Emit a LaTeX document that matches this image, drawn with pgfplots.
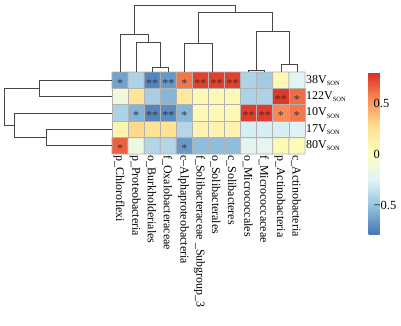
\documentclass[border=0pt]{standalone}
\usepackage{pgfplots}
\pgfplotsset{compat=1.18}
\usepackage{fontspec}
\setmainfont{Liberation Serif}
\pgfplotsset{colormap={pheat}{rgb255=(69,117,180) rgb255=(145,191,219) rgb255=(224,243,248) rgb255=(255,255,191) rgb255=(254,224,144) rgb255=(252,141,89) rgb255=(215,48,39)}}
\newcommand{\son}{{\fontsize{6.5}{7}\selectfont\raisebox{-2.2pt}{SON}}}
\begin{document}
\begin{tikzpicture}
\begin{axis}[
  at={(0,0)}, anchor=south west,
  scale only axis, width=193bp, height=82bp,
  xmin=-0.5, xmax=11.5, ymin=-0.5, ymax=4.5, y dir=reverse,
  enlargelimits=false, clip=false,
  axis line style={draw=none}, major tick length=0pt,
  xtick={0,1,2,3,4,5,6,7,8,9,10,11},
  xticklabels={p\_Chloroflexi, p\_Proteobacteria, o\_Burkholderiales, f\_Oxalobacteraceae, c--Alphaproteobacteria, f\_Solibacteraceae \_Subgroup\_3, o\_Solibacterales, c\_Solibacteres, o\_Micrococcales, f\_Micrococcaceae, p\_Actinobacteria, c\_Actinobacteria},
  xticklabel style={rotate=-90, anchor=west, font=\fontsize{12}{12}\selectfont, inner sep=1pt, yshift=-1bp},
  ytick={0,1,2,3,4},
  yticklabels={38V\son, 122V\son, 10V\son, 17V\son, 80V\son},
  yticklabel pos=right,
  yticklabel style={anchor=west, font=\fontsize{12}{12}\selectfont, inner sep=1pt},
  colormap name=pheat, point meta min=-0.78, point meta max=0.8,
  colorbar,
  colorbar style={at={(parent axis.south west)}, anchor=south west, xshift=248bp, yshift=-80.3bp,
    scale only axis, width=11bp, height=161.6bp,
    ytick={-0.5,0,0.5}, yticklabels={−0.5,0,0.5},
    yticklabel style={font=\fontsize{12.5}{12.5}\selectfont, inner sep=0pt, xshift=-6bp},
    major tick length=0pt, axis line style={draw=none}},
]
\addplot[matrix plot*, mesh/cols=12, point meta=explicit, shader=faceted, faceted color=black!30, line width=0.8bp] table[meta=c] {
x y c
0 0 -0.62
1 0 -0.42
2 0 -0.72
3 0 -0.66
4 0 0.6
5 0 0.75
6 0 0.75
7 0 0.75
8 0 -0.42
9 0 -0.46
10 0 0.08
11 0 -0.24
0 1 -0.12
1 1 0.24
2 1 -0.44
3 1 -0.55
4 1 0.2
5 1 0.06
6 1 0.06
7 1 0.06
8 1 -0.42
9 1 -0.42
10 1 0.77
11 1 0.63
0 2 -0.42
1 2 -0.56
2 2 -0.72
3 2 -0.7
4 2 -0.55
5 2 0.06
6 2 0.06
7 2 0.06
8 2 0.76
9 2 0.76
10 2 0.55
11 2 0.6
0 3 0.1
1 3 0.3
2 3 0.25
3 3 0.25
4 3 -0.4
5 3 0.1
6 3 0.1
7 3 0.1
8 3 -0.28
9 3 -0.28
10 3 -0.28
11 3 -0.26
0 4 0.66
1 4 -0.14
2 4 -0.4
3 4 -0.4
4 4 -0.65
5 4 -0.52
6 4 -0.52
7 4 -0.52
8 4 -0.22
9 4 -0.2
10 4 0.06
11 4 0.04
};
\addplot[draw=none, mark=none, forget plot, nodes near coords, point meta=explicit symbolic,
  nodes near coords style={anchor=center, font=\fontsize{12}{12}\selectfont, text=black!80, yshift=-3bp, inner sep=0pt}] table[meta=s] {
x y s
0 0 *
2 0 **
3 0 **
4 0 *
5 0 **
6 0 **
7 0 **
10 1 **
11 1 *
1 2 *
2 2 **
3 2 **
4 2 *
8 2 **
9 2 **
10 2 *
11 2 *
0 4 *
4 4 *
};
% column dendrogram
\addplot[black!72, line width=0.75bp, mark=none, forget plot] coordinates {(2,-0.5) (2,-0.76) (3,-0.76) (3,-0.5)};
\addplot[black!72, line width=0.75bp, mark=none, forget plot] coordinates {(1,-0.5) (1,-2.29) (2.5,-2.29) (2.5,-0.76)};
\addplot[black!72, line width=0.75bp, mark=none, forget plot] coordinates {(0,-0.5) (0,-2.77) (1.75,-2.77) (1.75,-2.29)};
\addplot[black!72, line width=0.75bp, mark=none, forget plot] coordinates {(4,-0.5) (4,-2.23) (5.75,-2.23) (5.75,-0.5)};
\addplot[black!72, line width=0.75bp, mark=none, forget plot] coordinates {(8,-0.5) (8,-0.58) (9,-0.58) (9,-0.5)};
\addplot[black!72, line width=0.75bp, mark=none, forget plot] coordinates {(10,-0.5) (10,-0.99) (11,-0.99) (11,-0.5)};
\addplot[black!72, line width=0.75bp, mark=none, forget plot] coordinates {(8.5,-0.58) (8.5,-2.98) (10.5,-2.98) (10.5,-0.99)};
\addplot[black!72, line width=0.75bp, mark=none, forget plot] coordinates {(4.875,-2.23) (4.875,-4.12) (9.5,-4.12) (9.5,-2.98)};
\addplot[black!72, line width=0.75bp, mark=none, forget plot] coordinates {(0.875,-2.77) (0.875,-4.54) (7.1875,-4.54) (7.1875,-4.12)};
% row dendrogram
\addplot[black!72, line width=0.75bp, mark=none, forget plot] coordinates {(-0.5,0) (-5.03,0) (-5.03,1) (-0.5,1)};
\addplot[black!72, line width=0.75bp, mark=none, forget plot] coordinates {(-0.5,3) (-4.56,3) (-4.56,4) (-0.5,4)};
\addplot[black!72, line width=0.75bp, mark=none, forget plot] coordinates {(-0.5,2) (-6.57,2) (-6.57,3.5) (-4.56,3.5)};
\addplot[black!72, line width=0.75bp, mark=none, forget plot] coordinates {(-5.03,0.5) (-7.21,0.5) (-7.21,2.75) (-6.57,2.75)};
\end{axis}
\pgfresetboundingbox
\path (-112bp,-172bp) rectangle (289bp,154bp);
\end{tikzpicture}
\end{document}
